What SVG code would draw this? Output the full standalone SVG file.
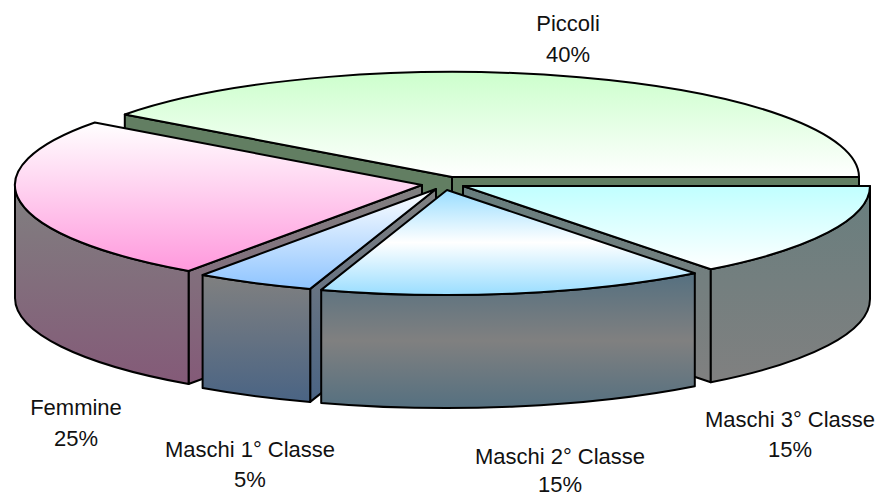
<svg xmlns="http://www.w3.org/2000/svg" width="877" height="497" viewBox="0 0 877 497">
<style>
.e{stroke:#000;stroke-width:2;stroke-linejoin:round}
.t{font-family:"Liberation Sans",Arial,sans-serif;font-size:22px;fill:#111;text-anchor:middle}
</style>
<defs>
<linearGradient id="gPicTop" x1="0" y1="0" x2="0" y2="1"><stop offset="0" stop-color="#ccffcc"/><stop offset="1" stop-color="#ffffff"/></linearGradient>
<linearGradient id="gFemTop" x1="0" y1="0" x2="0" y2="1"><stop offset="0" stop-color="#ffffff"/><stop offset="1" stop-color="#ff99dd"/></linearGradient>
<linearGradient id="gFemWall" x1="0" y1="0" x2="0" y2="1"><stop offset="0" stop-color="#808080"/><stop offset="1" stop-color="#845a78"/></linearGradient>
<linearGradient id="gM1Top" x1="0" y1="0" x2="0" y2="1"><stop offset="0" stop-color="#ffffff"/><stop offset="1" stop-color="#8ec4ff"/></linearGradient>
<linearGradient id="gM1Wall" x1="0" y1="0" x2="0" y2="1"><stop offset="0" stop-color="#808080"/><stop offset="1" stop-color="#4a6484"/></linearGradient>
<linearGradient id="gM2Top" x1="0" y1="0" x2="0" y2="1"><stop offset="0" stop-color="#99ddff"/><stop offset="0.5" stop-color="#ffffff"/><stop offset="1" stop-color="#99ddff"/></linearGradient>
<linearGradient id="gM2Wall" x1="0" y1="0" x2="0" y2="1"><stop offset="0" stop-color="#557080"/><stop offset="0.5" stop-color="#808080"/><stop offset="1" stop-color="#557080"/></linearGradient>
<linearGradient id="gM3Top" x1="0" y1="0" x2="0" y2="1"><stop offset="0" stop-color="#c0ffff"/><stop offset="1" stop-color="#ffffff"/></linearGradient>
<linearGradient id="gM3Wall" x1="0" y1="0" x2="0" y2="1"><stop offset="0" stop-color="#687e7e"/><stop offset="1" stop-color="#808080"/></linearGradient>
</defs>
<rect width="877" height="497" fill="#ffffff"/>
<g id="piccoli">
<path class="e" fill="#627e62" d="M452,177 L859,177 L859,290 L452,290 Z"/>
<path class="e" fill="#627e62" d="M452,177 L124.8,114.5 L124.8,227.5 L452,290 Z"/>
<path class="e" fill="url(#gPicTop)" d="M452,177 L859,177 A407,105 0 0 0 124.8,114.5 Z"/>
</g>
<g id="femmine">
<path class="e" fill="url(#gFemWall)" d="M422,185 L188.6,271 L188.6,384 L422,298 Z"/>
<path class="e" fill="url(#gFemWall)" d="M15,185 A407,105 0 0 0 188.6,271 L188.6,384 A407,105 0 0 1 15,298 Z"/>
<path class="e" fill="url(#gFemTop)" d="M422,185 L94.8,122.5 A407,105 0 0 0 188.6,271 Z"/>
</g>
<g id="maschi3">
<path class="e" fill="url(#gM3Wall)" d="M463,186 L710.8,269.3 L710.8,382.3 L463,299 Z"/>
<path class="e" fill="url(#gM3Wall)" d="M710.8,269.3 A407,105 0 0 0 870,186 L870,299 A407,105 0 0 1 710.8,382.3 Z"/>
<path class="e" fill="url(#gM3Top)" d="M463,186 L710.8,269.3 A407,105 0 0 0 870,186 Z"/>
</g>
<g id="maschi1">
<path class="e" fill="url(#gM1Wall)" d="M436,189 L310.2,288.9 L310.2,401.9 L436,302 Z"/>
<path class="e" fill="url(#gM1Wall)" d="M202.6,275 A407,105 0 0 0 310.2,288.9 L310.2,401.9 A407,105 0 0 1 202.6,388 Z"/>
<path class="e" fill="url(#gM1Top)" d="M436,189 L202.6,275 A407,105 0 0 0 310.2,288.9 Z"/>
</g>
<g id="maschi2">
<path class="e" fill="url(#gM2Wall)" d="M321.2,289.9 A407,105 0 0 0 694.8,273.3 L694.8,386.3 A407,105 0 0 1 321.2,402.9 Z"/>
<path class="e" fill="url(#gM2Top)" d="M447,190 L321.2,289.9 A407,105 0 0 0 694.8,273.3 Z"/>
</g>
<g id="labels">
<text class="t" x="568" y="31">Piccoli</text>
<text class="t" x="568" y="62">40%</text>
<text class="t" x="76" y="415">Femmine</text>
<text class="t" x="76" y="446">25%</text>
<text class="t" x="250" y="457">Maschi 1° Classe</text>
<text class="t" x="250" y="487">5%</text>
<text class="t" x="560" y="464">Maschi 2° Classe</text>
<text class="t" x="560" y="492">15%</text>
<text class="t" x="790" y="427">Maschi 3° Classe</text>
<text class="t" x="790" y="457">15%</text>
</g>
</svg>
